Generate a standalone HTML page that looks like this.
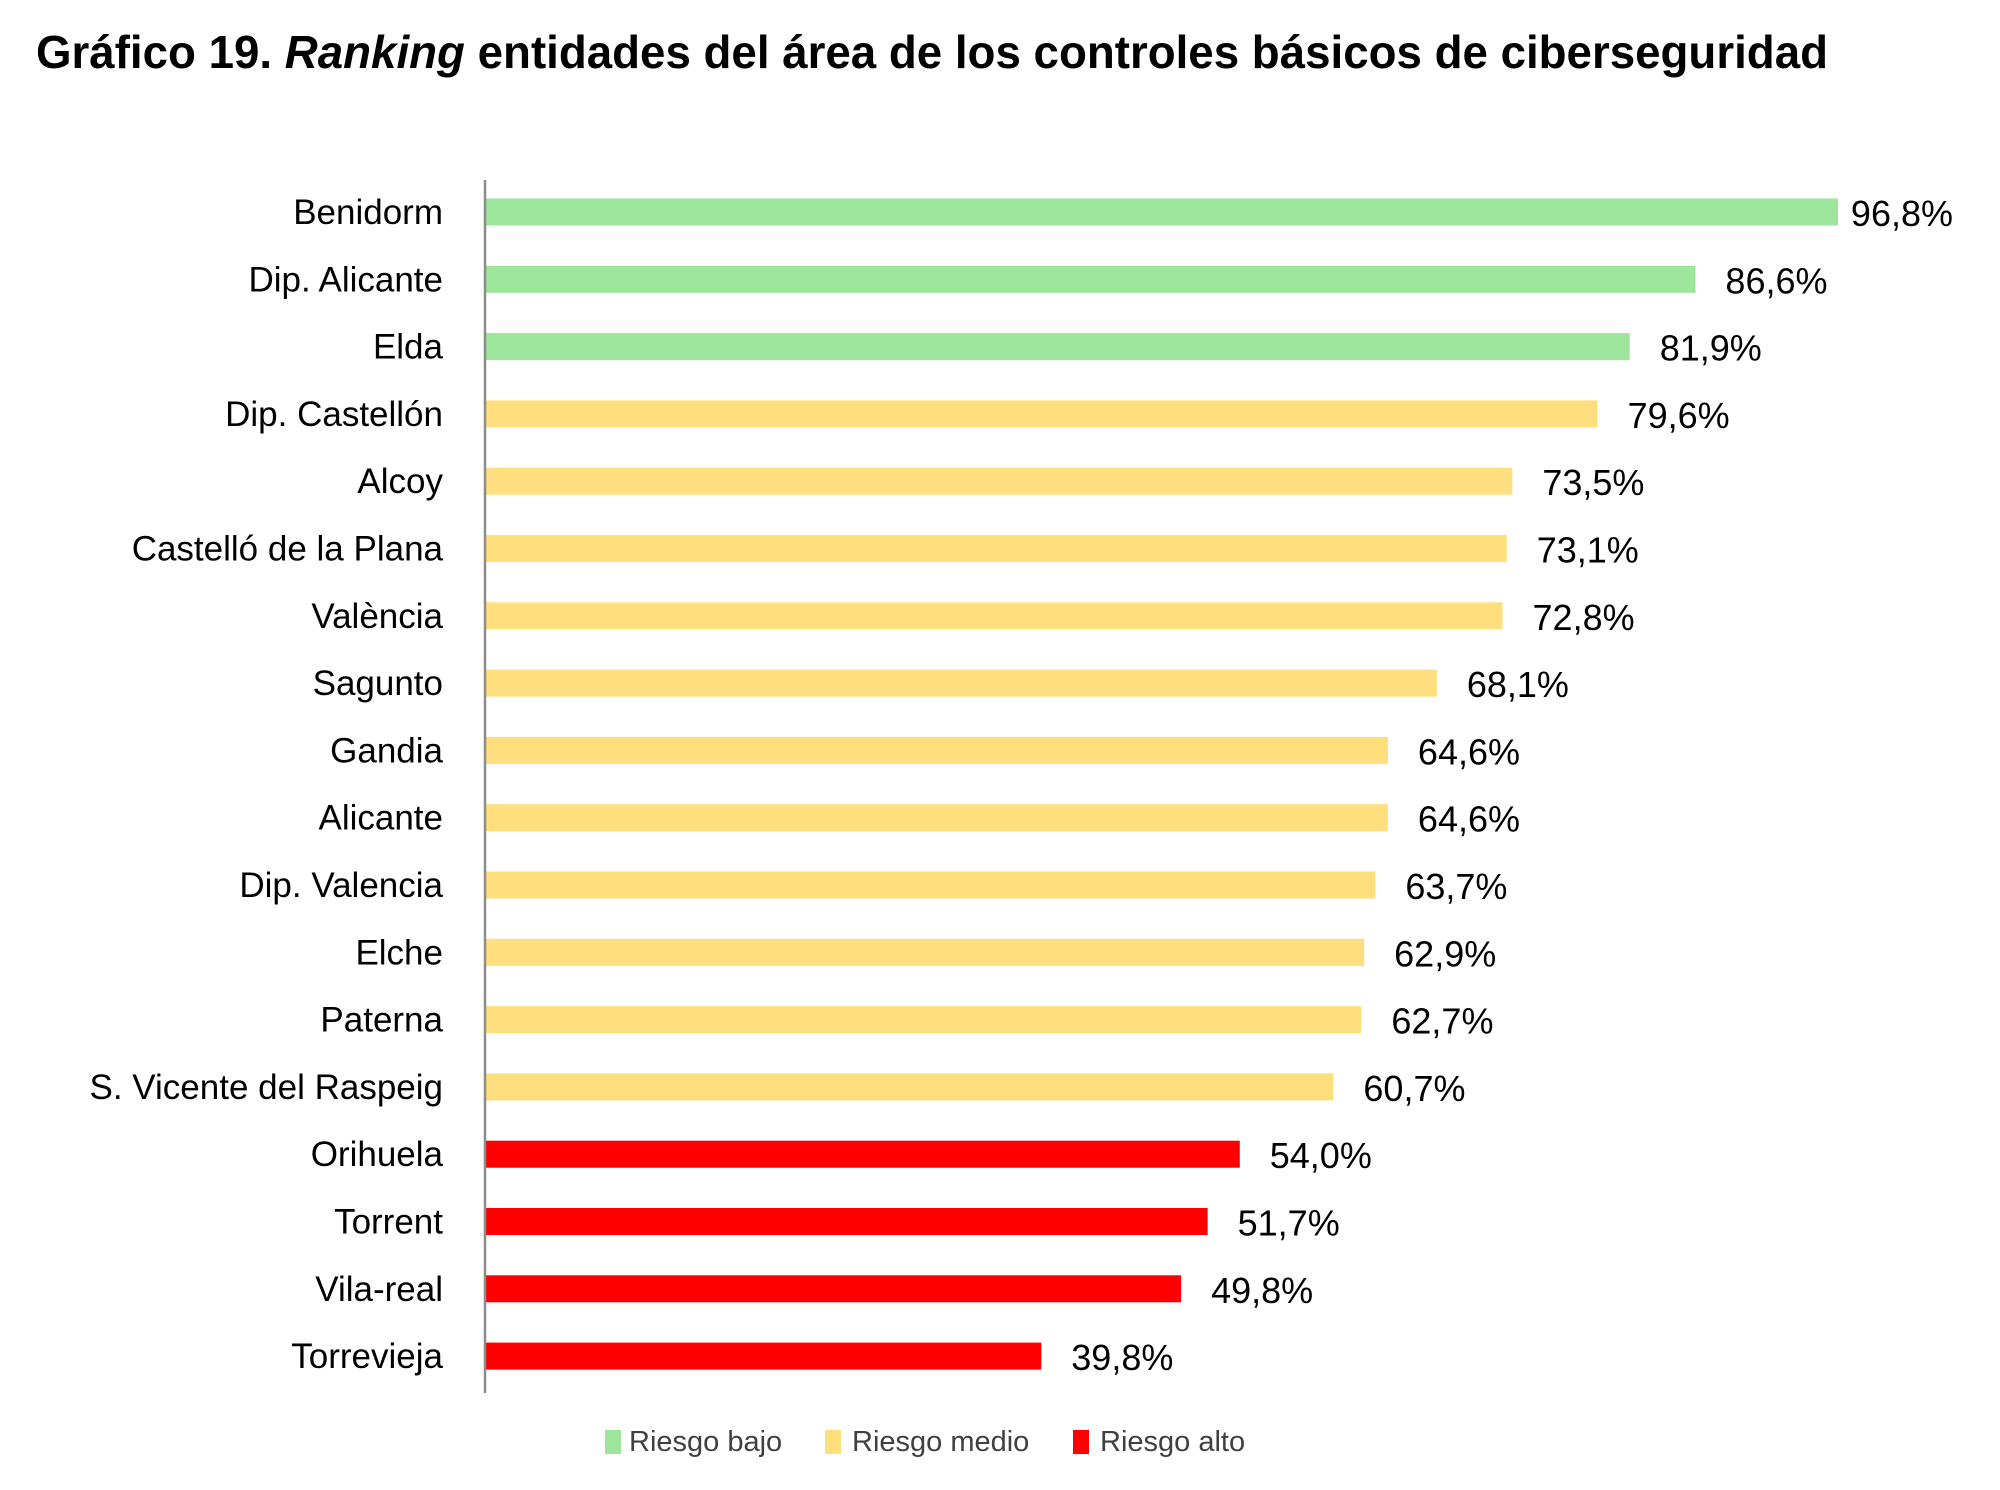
<!DOCTYPE html>
<html><head><meta charset="utf-8"><style>
html,body{margin:0;padding:0;background:#fff;}
svg{display:block;font-family:"Liberation Sans",sans-serif;}
</style></head><body>
<svg id="chart" width="2000" height="1490" viewBox="0 0 2000 1490">
<text x="36" y="68" font-size="46" font-weight="bold" fill="#000" textLength="1792" lengthAdjust="spacingAndGlyphs">Gráfico 19. <tspan font-style="italic">Ranking</tspan> entidades del área de los controles básicos de ciberseguridad</text>
<g id="bars"></g>
<line x1="485" y1="180" x2="485" y2="1393" stroke="#8c8c8c" stroke-width="2.5"/>
<g>
<rect x="605" y="1430" width="16" height="24" fill="#9DE59A"/>
<text x="629" y="1451" font-size="29" fill="#404040">Riesgo bajo</text>
<rect x="825" y="1430" width="16" height="24" fill="#FFDF7D"/>
<text x="852" y="1451" font-size="29" fill="#404040">Riesgo medio</text>
<rect x="1073" y="1430" width="16" height="24" fill="#FF0000"/>
<text x="1100" y="1451" font-size="29" fill="#404040">Riesgo alto</text>
</g>
</svg>
<script>
const categories = ["Benidorm","Dip. Alicante","Elda","Dip. Castellón","Alcoy","Castelló de la Plana","València","Sagunto","Gandia","Alicante","Dip. Valencia","Elche","Paterna","S. Vicente del Raspeig","Orihuela","Torrent","Vila-real","Torrevieja"];
const values = [96.8,86.6,81.9,79.6,73.5,73.1,72.8,68.1,64.6,64.6,63.7,62.9,62.7,60.7,54.0,51.7,49.8,39.8];
const risk = ["bajo","bajo","bajo","medio","medio","medio","medio","medio","medio","medio","medio","medio","medio","medio","alto","alto","alto","alto"];
const labels = ["96,8%","86,6%","81,9%","79,6%","73,5%","73,1%","72,8%","68,1%","64,6%","64,6%","63,7%","62,9%","62,7%","60,7%","54,0%","51,7%","49,8%","39,8%"];

const colors = {bajo:"#9DE59A", medio:"#FFDF7D", alto:"#FF0000"};
const NS = "http://www.w3.org/2000/svg";
const x0 = 485, pxPer = (1838 - 485) / 96.8;
const xScale = v => x0 + v * pxPer;
const yTop = 212, step = 67.3, barH = 27;
const yScale = i => yTop + i * step;
const g = document.getElementById('bars');
categories.forEach((c, i) => {
  const cy = yScale(i);
  const r = document.createElementNS(NS, 'rect');
  r.setAttribute('x', x0);
  r.setAttribute('y', cy - barH / 2);
  r.setAttribute('width', xScale(values[i]) - x0);
  r.setAttribute('height', barH);
  r.setAttribute('fill', colors[risk[i]]);
  
  
  g.appendChild(r);

  const t = document.createElementNS(NS, 'text');
  t.setAttribute('x', 443);
  t.setAttribute('y', cy + 12);
  t.setAttribute('text-anchor', 'end');
  t.setAttribute('font-size', '35');
  t.setAttribute('fill', '#000');
  t.textContent = c;
  
  
  g.appendChild(t);

  const v = document.createElementNS(NS, 'text');
  v.setAttribute('y', cy + 14);
  v.setAttribute('font-size', '36');
  v.setAttribute('fill', '#000');
  v.textContent = labels[i];
  
  
  g.appendChild(v);
  v.setAttribute('x', 0);
  const w = v.getComputedTextLength();
  const xv = Math.max(xScale(values[i]) + 7, Math.min(xScale(values[i]) + 30, 1953 - w));
  v.setAttribute('x', xv);
});
</script>
</body></html>
